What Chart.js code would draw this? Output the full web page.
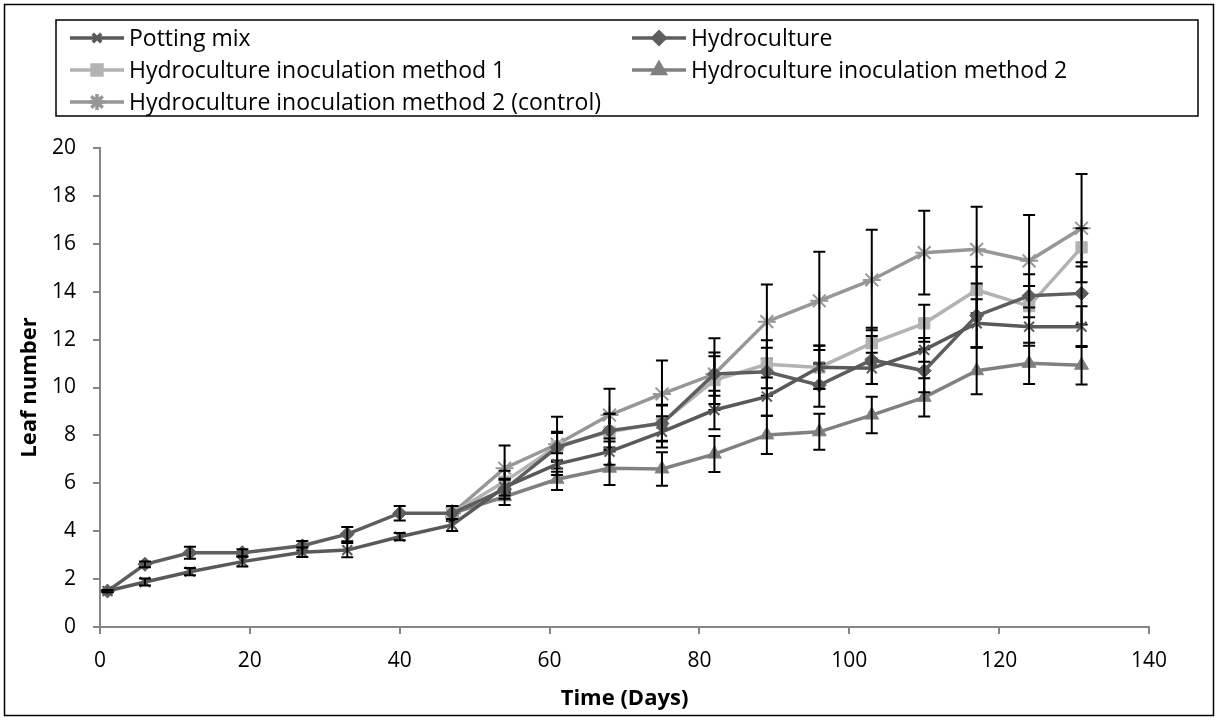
<!DOCTYPE html>
<html>
<head>
<meta charset="utf-8">
<script src="https://cdn.jsdelivr.net/npm/chart.js@4/dist/chart.umd.min.js"></script>
<style>
  html, body { margin: 0; padding: 0; background: #ffffff; }
  #wrap { position: relative; width: 1218px; height: 720px; }
</style>
</head>
<body>
<div id="wrap"><canvas id="c" width="1218" height="720"></canvas></div>
<script>
// ---- Data ----
const days = [1, 6, 12, 19, 27, 33, 40, 47, 54, 61, 68, 75, 82, 89, 96, 103, 110, 117, 124, 131];

const seriesNames = [
  "Potting mix",
  "Hydroculture",
  "Hydroculture inoculation method 1",
  "Hydroculture inoculation method 2",
  "Hydroculture inoculation method 2 (control)"
];

const pottingMix    = [1.5, 1.88, 2.31, 2.73, 3.12, 3.21, 3.77, 4.26, 5.84, 6.8, 7.32, 8.15, 9.06, 9.62, 10.85, 10.8, 11.57, 12.68, 12.54, 12.54];
const pottingMixErr = [0.05, 0.15, 0.15, 0.2, 0.2, 0.3, 0.15, 0.25, 0.35, 0.45, 0.55, 0.65, 0.8, 0.8, 0.9, 0.65, 0.5, 1.0, 0.8, 0.85];

const hydroculture    = [1.5, 2.62, 3.1, 3.1, 3.39, 3.88, 4.75, 4.75, 5.75, 7.5, 8.2, 8.5, 10.56, 10.66, 10.1, 11.15, 10.7, 13.0, 13.83, 13.93];
const hydrocultureErr = [0.05, 0.12, 0.25, 0.15, 0.2, 0.3, 0.3, 0.3, 0.4, 0.6, 0.7, 0.75, 0.9, 1.0, 0.9, 1.0, 0.9, 1.34, 0.9, 1.3];

const method1    = [null, null, null, null, null, null, null, 4.75, 6.07, 7.55, 8.15, 8.53, 10.31, 10.97, 10.84, 11.85, 12.68, 14.07, 13.4, 15.85];
const method1Err = [null, null, null, null, null, null, null, 0.3, 0.45, 0.6, 0.75, 0.75, 1.0, 1.0, 0.9, 0.65, 0.77, 0.97, 0.84, 0.8];

const method2    = [null, null, null, null, null, null, null, 4.75, 5.44, 6.17, 6.63, 6.6, 7.22, 8.02, 8.15, 8.85, 9.59, 10.7, 11.01, 10.93];
const method2Err = [null, null, null, null, null, null, null, 0.3, 0.35, 0.45, 0.7, 0.7, 0.75, 0.8, 0.75, 0.76, 0.8, 0.98, 0.86, 0.8];

const control    = [null, null, null, null, null, null, null, 4.75, 6.63, 7.63, 8.85, 9.73, 10.56, 12.75, 13.62, 14.49, 15.63, 15.77, 15.29, 16.65];
const controlErr = [null, null, null, null, null, null, null, 0.3, 0.95, 1.15, 1.1, 1.4, 1.5, 1.55, 2.05, 2.1, 1.75, 1.78, 1.91, 2.26];

const xTicks = [0, 20, 40, 60, 80, 100, 120, 140];
const yTicks = [0, 2, 4, 6, 8, 10, 12, 14, 16, 18, 20];

const xTitle = "Time (Days)";
const yTitle = "Leaf number";

// ---- Styles ----
const colors  = ["#595959", "#5e5e5e", "#b3b3b3", "#808080", "#979797"];
const markers = ["crossRot", "rectRot", "rect", "triangle", "star"];
const radii   = [7, 7, 8, 8, 9];
const values  = [pottingMix, hydroculture, method1, method2, control];
const errors  = [pottingMixErr, hydrocultureErr, method1Err, method2Err, controlErr];

const toPoints = (arr) => days.map((d, i) => ({ x: d, y: arr[i] })).filter(p => p.y !== null);

const datasets = values.map((arr, k) => ({
  label: seriesNames[k],
  data: toPoints(arr),
  errs: errors[k].filter(e => e !== null),
  borderColor: colors[k],
  backgroundColor: colors[k],
  borderWidth: 3.5,
  pointStyle: markers[k],
  pointRadius: radii[k],
  pointBorderColor: colors[k],
  pointBackgroundColor: colors[k],
  pointBorderWidth: (markers[k] === "crossRot" || markers[k] === "star") ? 2 : 1,
  tension: 0
}));

const FONT = "'Open Sans', sans-serif";

const errorBars = {
  id: "errorBars",
  afterDatasetDraw(chart, args) {
    const ds = chart.data.datasets[args.index];
    const ys = chart.scales.y;
    const ctx = chart.ctx;
    ctx.save();
    ctx.strokeStyle = "#000000";
    ctx.lineWidth = 2;
    args.meta.data.forEach((pt, i) => {
      const v = ds.data[i].y, e = ds.errs[i];
      if (e == null) return;
      const yt = ys.getPixelForValue(v + e), yb = ys.getPixelForValue(v - e);
      const x = pt.x;
      ctx.beginPath();
      ctx.moveTo(x, yt); ctx.lineTo(x, yb);
      ctx.moveTo(x - 6, yt); ctx.lineTo(x + 6, yt);
      ctx.moveTo(x - 6, yb); ctx.lineTo(x + 6, yb);
      ctx.stroke();
    });
    ctx.restore();
  }
};

function drawMarker(ctx, style, x, y, r) {
  Chart.helpers.drawPoint(ctx, {
    pointStyle: style, radius: r, rotation: 0,
    borderWidth: (style === "crossRot" || style === "star") ? 2 : 1
  }, x, y);
}

const frameAndLegend = {
  id: "frameAndLegend",
  beforeDraw(chart) {
    const ctx = chart.ctx;
    ctx.save();
    ctx.fillStyle = "#ffffff";
    ctx.fillRect(0, 0, chart.width, chart.height);
    ctx.restore();
  },
  afterDraw(chart) {
    const ctx = chart.ctx;
    ctx.save();
    // outer frame
    ctx.strokeStyle = "#000000";
    ctx.lineWidth = 1.5;
    ctx.strokeRect(4.5, 4.5, 1209, 711);
    // legend box
    ctx.lineWidth = 1.5;
    ctx.strokeRect(56, 20, 1142, 96);
    const colX = [70, 632];
    const rowY = [38, 70, 102];
    ctx.font = "23px " + FONT;
    ctx.textBaseline = "middle";
    ctx.textAlign = "left";
    chart.data.datasets.forEach((ds, i) => {
      const cx = colX[i % 2], cy = rowY[Math.floor(i / 2)];
      ctx.strokeStyle = ds.borderColor;
      ctx.lineWidth = 3.5;
      ctx.beginPath();
      ctx.moveTo(cx, cy); ctx.lineTo(cx + 54, cy);
      ctx.stroke();
      ctx.fillStyle = ds.pointBackgroundColor;
      ctx.strokeStyle = ds.pointBorderColor;
      drawMarker(ctx, ds.pointStyle, cx + 27, cy, ds.pointRadius - 1);
      ctx.fillStyle = "#000000";
      ctx.fillText(ds.label, cx + 59, cy + 1);
    });
    ctx.restore();
  }
};

new Chart(document.getElementById("c"), {
  type: "line",
  data: { datasets },
  plugins: [frameAndLegend, errorBars],
  options: {
    responsive: false,
    animation: false,
    events: [],
    layout: { padding: { left: 0, right: 69, top: 148, bottom: 0 } },
    plugins: { legend: { display: false }, tooltip: { enabled: false } },
    scales: {
      x: {
        type: "linear",
        min: 0, max: 140,
        afterFit(s) { s.height = 93; },
        afterBuildTicks(s) { s.ticks = xTicks.map(v => ({ value: v })); },
        ticks: { color: "#000000", font: { family: FONT, size: 21 }, padding: 14, maxRotation: 0 },
        grid: { drawOnChartArea: false, drawTicks: true, tickLength: 7, color: "#868686", lineWidth: 2 },
        border: { color: "#868686", width: 2 },
        title: { display: true, text: xTitle, color: "#000000", font: { family: FONT, size: 22, weight: "bold" }, padding: { top: 8, bottom: 8 } }
      },
      y: {
        type: "linear",
        min: 0, max: 20,
        afterFit(s) { s.width = 100; },
        afterBuildTicks(s) { s.ticks = yTicks.map(v => ({ value: v })); },
        ticks: { color: "#000000", font: { family: FONT, size: 21 }, padding: 17 },
        grid: { drawOnChartArea: false, drawTicks: true, tickLength: 7, color: "#868686", lineWidth: 2 },
        border: { color: "#868686", width: 2 },
        title: { display: true, text: yTitle, color: "#000000", font: { family: FONT, size: 22, weight: "bold" }, padding: { top: 17, bottom: 17 } }
      }
    }
  }
});
</script>
</body>
</html>
